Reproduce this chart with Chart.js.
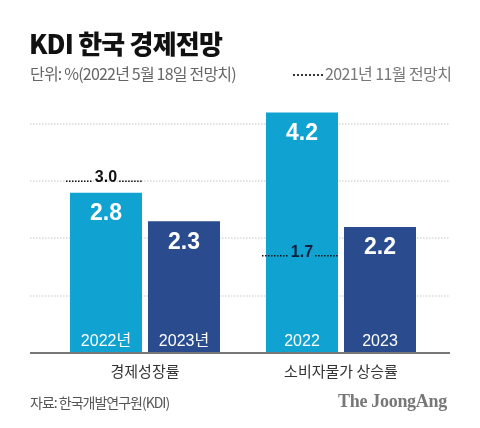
<!DOCTYPE html>
<html>
<head>
<meta charset="utf-8">
<script src="https://cdn.jsdelivr.net/npm/chart.js@4/dist/chart.umd.min.js"></script>
<style>
  html, body { margin: 0; padding: 0; background: #fff; }
  #wrap { position: relative; width: 480px; height: 428px; overflow: hidden; font-family: 'Noto Sans CJK KR', sans-serif; }
  #chart { position: absolute; left: 0; top: 0; }
  .t { position: absolute; white-space: nowrap; }
  #title { left: 29px; top: 25px; font-size: 26px; font-weight: 900; color: #111; letter-spacing: -0.8px; line-height: 36px; }
  #unit { left: 30px; top: 62px; font-size: 16px; color: #666; letter-spacing: -0.8px; line-height: 22px; }
  #legend { left: 293px; top: 62px; font-size: 16px; color: #777; letter-spacing: -0.6px; line-height: 22px; }
  #legend span { display: inline-block; width: 30px; height: 0; border-bottom: 2px dotted #333; vertical-align: 4px; margin-right: 2px; }
  #src { left: 30px; top: 392px; font-size: 14px; color: #555; letter-spacing: -1px; line-height: 20px; }
  #brand { left: 338px; top: 390px; font-family: 'Liberation Serif', 'DejaVu Serif', serif; font-size: 18px; font-weight: 700; color: #777; line-height: 22px; letter-spacing: -0.3px; }
</style>
</head>
<body>
<div id="wrap">
  <canvas id="chart" width="480" height="428"></canvas>
  <div class="t" id="title">KDI 한국 경제전망</div>
  <div class="t" id="unit">단위: %(2022년 5월 18일 전망치)</div>
  <div class="t" id="legend"><span></span>2021년 11월 전망치</div>
  <div class="t" id="src">자료: 한국개발연구원(KDI)</div>
  <div class="t" id="brand">The JoongAng</div>
</div>
<script>
var categories = ['경제성장률', '소비자물가 상승률'];
var values2022 = [2.8, 4.2];
var values2023 = [2.3, 2.2];
var prev2022 = [3.0, 1.7];
var yearLabels2022 = ['2022년', '2022'];
var yearLabels2023 = ['2023년', '2023'];
var gridTicks = [1, 2, 3, 4];

var numFont = "'Liberation Sans', 'Noto Sans CJK KR', sans-serif";

// grid + axis line span wider than the chart area
var backdrop = {
    id: 'backdrop',
    beforeDatasetsDraw: function(chart) {
        var c = chart.ctx, y = chart.scales.y;
        c.save();
        c.strokeStyle = '#e2e2e2';
        c.lineWidth = 2;
        c.setLineDash([1.5, 1.5]);
        gridTicks.forEach(function(v) {
            var py = Math.round(y.getPixelForValue(v));
            c.beginPath();
            c.moveTo(30, py);
            c.lineTo(450, py);
            c.stroke();
        });
        c.restore();
    },
    afterDatasetsDraw: function(chart) {
        var c = chart.ctx, y = chart.scales.y;
        c.save();
        // baseline
        var y0 = y.getPixelForValue(0);
        c.strokeStyle = '#777';
        c.lineWidth = 2;
        c.beginPath();
        c.moveTo(30, y0);
        c.lineTo(450, y0);
        c.stroke();

        chart.data.datasets.forEach(function(ds, di) {
            var meta = chart.getDatasetMeta(di);
            meta.data.forEach(function(bar, i) {
                var half = bar.width / 2;
                c.fillStyle = '#fff';
                c.textAlign = 'center';
                c.textBaseline = 'middle';
                c.font = 'bold 23px ' + numFont;
                c.fillText(ds.data[i].toFixed(1), bar.x, bar.y + 21);
                c.font = '16px ' + numFont;
                c.fillText(ds.years[i], bar.x, bar.base - 11);

                if (ds.prev) {
                    var py = y.getPixelForValue(ds.prev[i]);
                    var txt = ds.prev[i].toFixed(1);
                    c.font = 'bold 16px ' + numFont;
                    var tw = c.measureText(txt).width + 4;
                    c.strokeStyle = '#111';
                    c.lineWidth = 1.5;
                    c.setLineDash([1.5, 1.5]);
                    c.beginPath();
                    c.moveTo(bar.x - half - 4, py);
                    c.lineTo(bar.x - tw / 2, py);
                    c.moveTo(bar.x + tw / 2, py);
                    c.lineTo(bar.x + half, py);
                    c.stroke();
                    c.setLineDash([]);
                    c.fillStyle = i === 0 ? '#111' : '#0b1f3f';
                    c.textBaseline = 'alphabetic';
                    c.fillText(txt, bar.x, py + 1);
                }
            });
        });
        c.restore();
    }
};

new Chart(document.getElementById('chart'), {
    type: 'bar',
    data: {
        labels: categories,
        datasets: [{
            label: '2022',
            data: values2022,
            prev: prev2022,
            years: yearLabels2022,
            backgroundColor: '#10a2d0'
        }, {
            label: '2023',
            data: values2023,
            years: yearLabels2023,
            backgroundColor: '#2a4b8e'
        }]
    },
    options: {
        responsive: false,
        animation: false,
        categoryPercentage: 0.796,
        barPercentage: 0.923,
        layout: { padding: { left: 47, right: 41, top: 101, bottom: 47 } },
        plugins: { legend: { display: false }, tooltip: { enabled: false } },
        scales: {
            x: {
                grid: { display: false },
                border: { display: false },
                ticks: {
                    color: '#333',
                    padding: 1,
                    font: { family: 'Noto Sans CJK KR', size: 15 }
                }
            },
            y: {
                display: false,
                min: 0,
                max: 4.4
            }
        }
    },
    plugins: [backdrop]
});
</script>
</body>
</html>
